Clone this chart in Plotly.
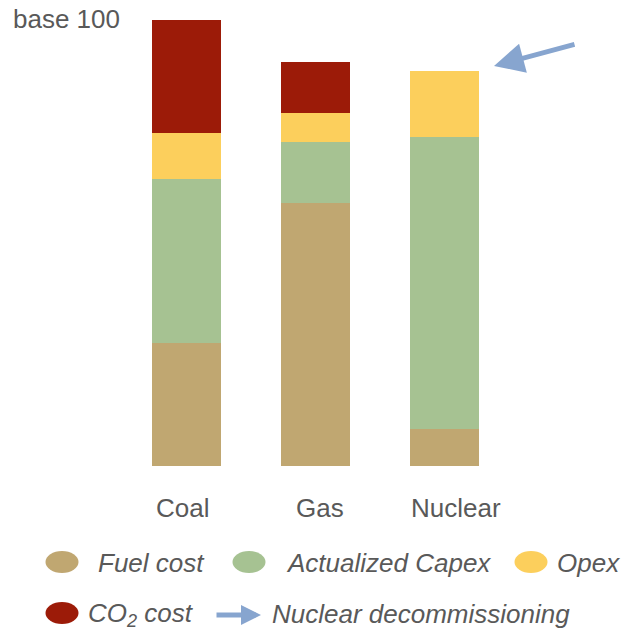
import plotly.graph_objects as go

# Cost breakdown per generation technology (base 100 = coal total)
technologies = ["Coal", "Gas", "Nuclear"]
fuel_cost = [27.6, 59.0, 8.3]
actualized_capex = [36.8, 13.7, 65.4]
opex = [10.3, 6.5, 14.9]
co2_cost = [25.3, 11.4, 0]

series_names = ["Fuel cost", "Actualized Capex", "Opex", "CO<sub>2</sub> cost"]
series_values = [fuel_cost, actualized_capex, opex, co2_cost]
series_colors = ["#C0A771", "#A6C292", "#FCCF5C", "#9C1B08"]

ARROW_COLOR = "#87A5CF"
TEXT_COLOR = "#595959"
FONT = "Liberation Sans, Arial, sans-serif"
FS = 26

W, H = 623, 631
L, R, T, B = 122, 114, 20, 165
PW, PH = W - L - R, H - T - B


def px_x(x):
    return (x - L) / PW


def px_y(y):
    return (H - B - y) / PH


fig = go.Figure()
for name, vals, col in zip(series_names, series_values, series_colors):
    fig.add_trace(go.Bar(x=technologies, y=vals, name=name,
                         marker=dict(color=col, line=dict(width=0)),
                         showlegend=False, hoverinfo="x+y+name"))

shapes = []
annotations = []

# Category labels under each bar
label_shifts = [-4, 4, 11]
for tech, dx in zip(technologies, label_shifts):
    annotations.append(dict(xref="x", yref="paper", x=tech, y=px_y(508), xshift=dx,
                            xanchor="center", yanchor="middle", showarrow=False,
                            text=tech, font=dict(size=FS, color=TEXT_COLOR, family=FONT)))

# "base 100" caption
annotations.append(dict(xref="paper", yref="paper", x=px_x(11), y=px_y(19),
                        xanchor="left", yanchor="middle", showarrow=False,
                        text="base 100", font=dict(size=FS, color=TEXT_COLOR, family=FONT)))

# Decommissioning arrow pointing at the nuclear bar
annotations.append(dict(xref="paper", yref="paper", axref="pixel", ayref="pixel",
                        x=px_x(494), y=px_y(66), ax=82, ay=-22,
                        showarrow=True, arrowhead=2, arrowsize=1.2, arrowwidth=5,
                        arrowcolor=ARROW_COLOR, text=""))

# Legend entries: ellipse markers with italic labels
legend_items = [
    (62, 562, 96, "Fuel cost", series_colors[0]),
    (249, 562, 284, "Actualized Capex", series_colors[1]),
    (531, 562, 555, "Opex", series_colors[2]),
    (62, 613, 86, "CO<sub>2</sub> cost", series_colors[3]),
]
for cx, cy, tx, label, col in legend_items:
    shapes.append(dict(type="circle", xref="paper", yref="paper",
                       x0=px_x(cx - 16.5), x1=px_x(cx + 16.5),
                       y0=px_y(cy + 11), y1=px_y(cy - 11),
                       fillcolor=col, line=dict(width=0)))
    annotations.append(dict(xref="paper", yref="paper", x=px_x(tx), y=px_y(cy + 1),
                            xanchor="left", yanchor="middle", showarrow=False,
                            text="<i>" + label + "</i>",
                            font=dict(size=FS, color=TEXT_COLOR, family=FONT)))

# Arrow legend entry
annotations.append(dict(xref="paper", yref="paper", axref="pixel", ayref="pixel",
                        x=px_x(261), y=px_y(615), ax=-46, ay=0,
                        showarrow=True, arrowhead=2, arrowsize=0.8, arrowwidth=5,
                        arrowcolor=ARROW_COLOR, text=""))
annotations.append(dict(xref="paper", yref="paper", x=px_x(270), y=px_y(614),
                        xanchor="left", yanchor="middle", showarrow=False,
                        text="<i>Nuclear decommissioning</i>",
                        font=dict(size=FS, color=TEXT_COLOR, family=FONT)))

fig.update_layout(
    width=W, height=H,
    margin=dict(l=L, r=R, t=T, b=B, pad=0),
    barmode="stack", bargap=0.46,
    plot_bgcolor="white", paper_bgcolor="white",
    shapes=shapes, annotations=annotations,
    xaxis=dict(range=[-0.5, 2.5], showgrid=False, zeroline=False, showline=False,
               showticklabels=False, ticks="", fixedrange=True),
    yaxis=dict(range=[0, 100], visible=False, fixedrange=True),
)

fig.write_html("out.html")
